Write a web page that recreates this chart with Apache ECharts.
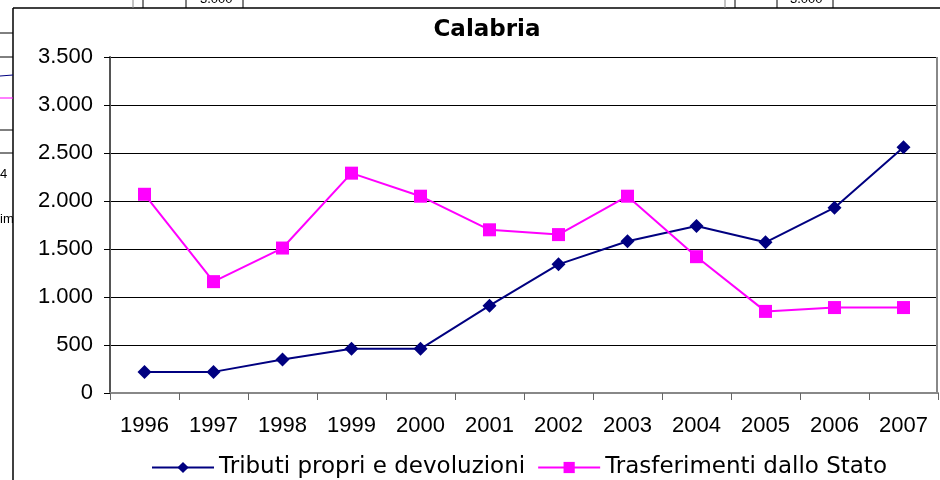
<!DOCTYPE html>
<html lang="it">

<head>
  <meta charset="UTF-8">
  <title>Calabria</title>
</head>

<body style="margin:0;background:#fff;">
  <div id="main" style="width: 940px;height:480px;"></div>

  <script src="https://cdn.jsdelivr.net/npm/echarts@6/dist/echarts.min.js"></script>
  <script>
    let years = ['1996', '1997', '1998', '1999', '2000', '2001', '2002', '2003', '2004', '2005', '2006', '2007'];
    let tributi = [220, 220, 350, 460, 460, 910, 1340, 1580, 1740, 1570, 1930, 2560];
    let trasferimenti = [2070, 1160, 1510, 2290, 2050, 1700, 1650, 2050, 1420, 850, 890, 890];
    let seriesNames = ['Tributi propri e devoluzioni', 'Trasferimenti dallo Stato'];

    let chart = echarts.init(document.getElementById('main'));

    // pezzi dei grafici vicini e cornice
    let frame = [
      { type: 'line', shape: { x1: 13, y1: 8, x2: 940, y2: 8 }, style: { stroke: '#000', lineWidth: 1.5 } },
      { type: 'line', shape: { x1: 13, y1: 8, x2: 13, y2: 480 }, style: { stroke: '#000', lineWidth: 1.5 } },
      { type: 'line', shape: { x1: 0, y1: 33, x2: 13, y2: 33 }, style: { stroke: '#000', lineWidth: 1 } },
      { type: 'line', shape: { x1: 0, y1: 57, x2: 13, y2: 57 }, style: { stroke: '#000', lineWidth: 1 } },
      { type: 'line', shape: { x1: 0, y1: 76, x2: 13, y2: 75 }, style: { stroke: '#000080', lineWidth: 1 } },
      { type: 'line', shape: { x1: 0, y1: 98, x2: 13, y2: 98 }, style: { stroke: '#ff00ff', lineWidth: 1 } },
      { type: 'line', shape: { x1: 0, y1: 130, x2: 13, y2: 130 }, style: { stroke: '#000', lineWidth: 1 } },
      { type: 'line', shape: { x1: 0, y1: 153, x2: 13, y2: 153 }, style: { stroke: '#000', lineWidth: 1 } },
      { type: 'text', x: 0, y: 168, style: { text: '4', font: '13px "Liberation Sans"', fill: '#000' } },
      { type: 'text', x: 0, y: 213, style: { text: 'im', font: '13px "Liberation Sans"', fill: '#000' } },
      { type: 'line', shape: { x1: 133, y1: 0, x2: 133, y2: 8 }, style: { stroke: '#888', lineWidth: 1 } },
      { type: 'line', shape: { x1: 143, y1: 0, x2: 143, y2: 8 }, style: { stroke: '#000', lineWidth: 1 } },
      { type: 'line', shape: { x1: 186, y1: 0, x2: 186, y2: 8 }, style: { stroke: '#000', lineWidth: 1 } },
      { type: 'line', shape: { x1: 243, y1: 0, x2: 243, y2: 8 }, style: { stroke: '#000', lineWidth: 1 } },
      { type: 'text', x: 200, y: -7, style: { text: '3.000', font: '13px "Liberation Sans"', fill: '#000' } },
      { type: 'line', shape: { x1: 725, y1: 0, x2: 725, y2: 8 }, style: { stroke: '#888', lineWidth: 1 } },
      { type: 'line', shape: { x1: 735, y1: 0, x2: 735, y2: 8 }, style: { stroke: '#000', lineWidth: 1 } },
      { type: 'line', shape: { x1: 777, y1: 0, x2: 777, y2: 8 }, style: { stroke: '#000', lineWidth: 1 } },
      { type: 'line', shape: { x1: 833, y1: 0, x2: 833, y2: 8 }, style: { stroke: '#000', lineWidth: 1 } },
      { type: 'text', x: 790, y: -7, style: { text: '3.000', font: '13px "Liberation Sans"', fill: '#000' } }
    ];

    let option = {
      animation: false,
      backgroundColor: '#fff',
      graphic: frame,
      title: {
        text: 'Calabria',
        left: 482,
        top: 14,
        textAlign: 'center',
        textStyle: {
          fontFamily: 'DejaVu Sans',
          fontWeight: 'bold',
          fontSize: 23,
          color: '#000'
        }
      },
      legend: {
        top: 451,
        left: 146,
        itemGap: 12,
        itemWidth: 62,
        itemHeight: 14,
        textStyle: {
          fontFamily: 'DejaVu Sans',
          fontSize: 23,
          color: '#000'
        },
        data: seriesNames
      },
      grid: {
        left: 110,
        right: 2,
        top: 57,
        bottom: 87,
        containLabel: false
      },
      xAxis: {
        type: 'category',
        boundaryGap: true,
        data: years,
        axisLine: { lineStyle: { color: '#888', width: 2 } },
        axisTick: { show: true, length: 7, lineStyle: { color: '#666' } },
        axisLabel: {
          fontFamily: 'Liberation Sans',
          fontSize: 22,
          color: '#000',
          margin: 22
        },
        splitLine: { show: false }
      },
      yAxis: {
        type: 'value',
        min: 0,
        max: 3500,
        interval: 500,
        axisLine: { show: true, lineStyle: { color: '#555', width: 2 } },
        axisTick: { show: true, length: 6, lineStyle: { color: '#000' } },
        axisLabel: {
          fontFamily: 'Liberation Sans',
          fontSize: 22,
          color: '#000',
          margin: 17,
          formatter: (v) => v.toLocaleString('it-IT')
        },
        splitLine: { show: true, lineStyle: { color: '#000', width: 1 } }
      },
      series: [{
        name: seriesNames[0],
        type: 'line',
        data: tributi,
        symbol: 'diamond',
        symbolSize: 14,
        color: '#000080',
        lineStyle: { color: '#000080', width: 2 },
        itemStyle: { color: '#000080' }
      }, {
        name: seriesNames[1],
        type: 'line',
        data: trasferimenti,
        symbol: 'rect',
        symbolSize: 13,
        color: '#ff00ff',
        lineStyle: { color: '#ff00ff', width: 2 },
        itemStyle: { color: '#ff00ff' }
      }, {
        // bordo destro dell'area del grafico
        type: 'line',
        data: [],
        markLine: {
          silent: true,
          symbol: 'none',
          label: { show: false },
          lineStyle: { color: '#888', type: 'solid', width: 2 },
          data: [[{ x: 937, y: 57 }, { x: 937, y: 393 }]]
        }
      }]
    };

    chart.setOption(option);
  </script>
</body>

</html>
